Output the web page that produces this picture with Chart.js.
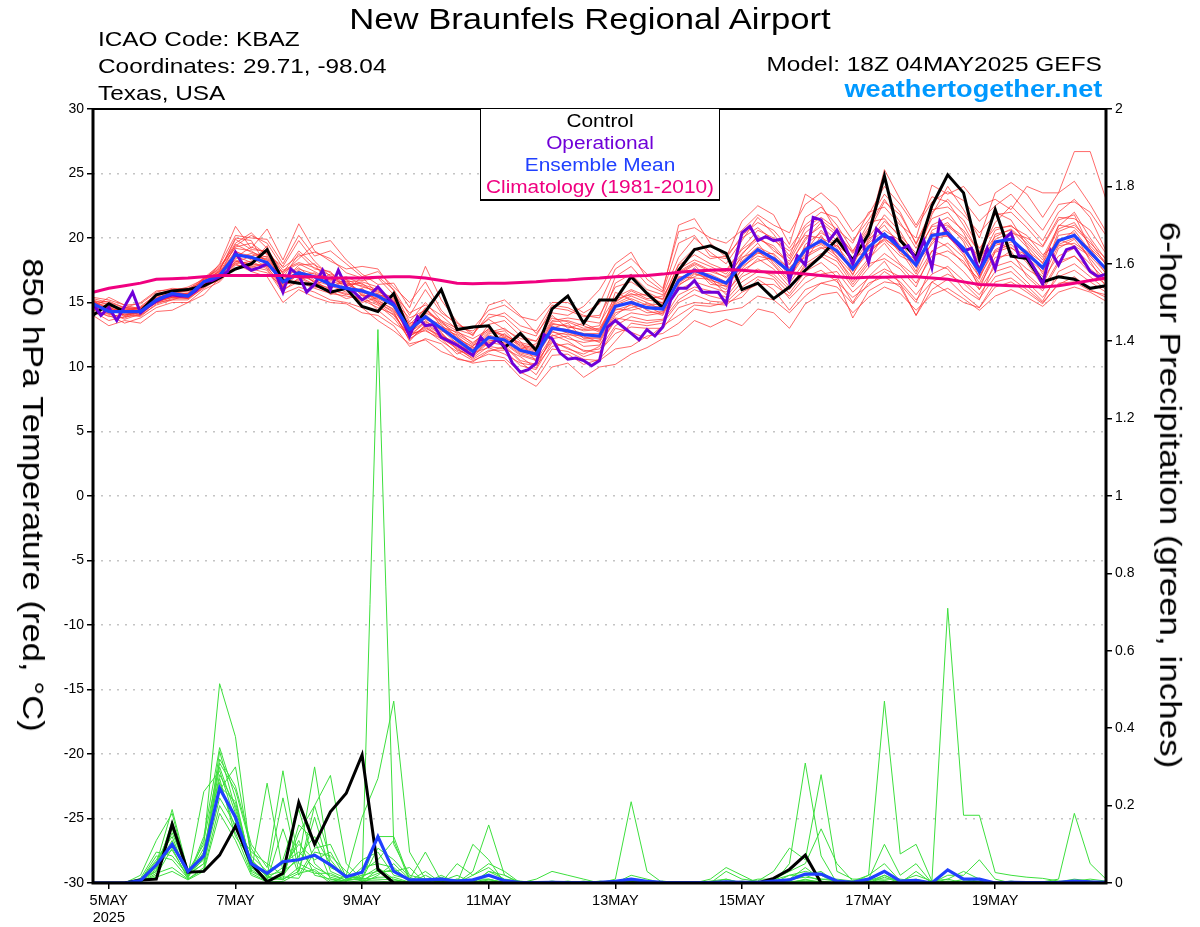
<!DOCTYPE html>
<html>
<head>
<meta charset="utf-8">
<title>New Braunfels Regional Airport</title>
<script src="https://cdn.jsdelivr.net/npm/chart.js@4"></script>
<style>
  html, body { margin: 0; padding: 0; background: #fff; }
  #wrap { position: relative; width: 1200px; height: 927px; overflow: hidden; font-family: "Liberation Sans", Arial, sans-serif; color: #000; }
  canvas { position: absolute; left: 0; top: 0; }
  .txt { position: absolute; white-space: nowrap; line-height: 1; }
  .l { transform: translateY(-50%) scaleX(1.16); transform-origin: left center; font-size: 21px; }
  .r { right: 98px; transform: translateY(-50%) scaleX(1.165); transform-origin: right center; }
  .c { transform: translate(-50%, -50%) scaleX(1.155); }
  .v { transform: translate(-50%, -50%) rotate(90deg) scaleX(1.155); font-size: 30px; }
  #legend { position: absolute; left: 480px; top: 109px; width: 238px; height: 89px; background: #fff; border: 1px solid #000; border-bottom-width: 2px; border-top-width: 0; text-align: center; font-size: 17.5px; line-height: 22px; padding-top: 1px; }
  #legend div { transform: scaleX(1.19); }
</style>
</head>
<body>
<div id="wrap">
  <canvas id="chart" width="1200" height="927"></canvas>
  <div class="txt c" style="left:590px;top:19px;font-size:30px">New Braunfels Regional Airport</div>
  <div class="txt l" style="left:98px;top:38px">ICAO Code: KBAZ</div>
  <div class="txt l" style="left:98px;top:65px">Coordinates: 29.71, -98.04</div>
  <div class="txt l" style="left:98px;top:92px">Texas, USA</div>
  <div class="txt r" style="top:63px;font-size:21px">Model: 18Z 04MAY2025 GEFS</div>
  <div class="txt r" style="top:90px;font-size:23.3px;font-weight:bold;color:#0099ff">weathertogether.net</div>
  <div class="txt v" style="left:33px;top:495px">850 hPa Temperature (red, °C)</div>
  <div class="txt v" style="left:1170px;top:495px;font-size:30.3px">6-hour Precipitation (green, inches)</div>
  <div id="legend">
    <div>Control</div>
    <div style="color:#7000d8">Operational</div>
    <div style="color:#2040ff">Ensemble Mean</div>
    <div style="color:#f00080">Climatology (1981-2010)</div>
  </div>
</div>
<script>
// tick labels, x is hours after 18Z 04MAY
const tickHours = [6, 54, 102, 150, 198, 246, 294, 342];
const tickDays = ['5MAY', '7MAY', '9MAY', '11MAY', '13MAY', '15MAY', '17MAY', '19MAY'];
const tempTicks = [-30, -25, -20, -15, -10, -5, 0, 5, 10, 15, 20, 25, 30];
const precipTicks = [0, 0.2, 0.4, 0.6, 0.8, 1, 1.2, 1.4, 1.6, 1.8, 2];

// --- 850 hPa temperature, every 6 hours ---
const controlTemp = [14.0,14.9,14.3,14.3,15.6,15.9,16.0,16.3,16.9,17.6,18.0,19.1,16.7,16.5,16.4,15.8,16.1,14.7,14.3,15.7,12.7,14.3,16.0,12.9,13.1,13.2,11.5,12.6,11.3,14.5,15.5,13.4,15.2,15.2,17.0,15.7,14.6,17.5,19.1,19.4,18.8,16.0,16.5,15.3,16.2,17.5,18.6,19.9,18.3,20.3,24.8,19.8,18.5,22.5,24.9,23.5,18.4,22.2,18.6,18.4,16.6,17.0,16.8,16.1,16.3];
const meanTemp = [14.9,14.3,14.3,14.3,15.2,15.7,15.5,16.6,17.1,18.7,18.5,18.1,16.6,17.3,17.0,16.4,16.1,15.9,15.5,14.8,12.9,13.9,13.0,12.1,11.2,12.3,12.1,11.3,11.0,13.0,12.8,12.5,12.4,14.7,15.0,14.6,14.5,16.7,17.5,17.0,16.5,18.0,19.1,18.4,17.4,19.1,19.8,19.0,17.6,19.3,20.3,19.2,17.9,20.2,20.4,19.2,17.4,19.7,19.9,18.8,17.7,19.8,20.2,18.9,17.6];
const climoTemp = [15.8,16.1,16.3,16.5,16.8,16.85,16.9,17.0,17.1,17.1,17.1,17.1,17.1,17.0,17.0,16.9,16.9,16.9,16.95,17.0,17.0,16.9,16.7,16.5,16.45,16.5,16.5,16.55,16.6,16.7,16.75,16.85,16.9,17.0,17.05,17.1,17.2,17.35,17.45,17.5,17.55,17.5,17.4,17.35,17.3,17.2,17.1,17.0,16.9,16.95,16.95,17.0,17.0,16.9,16.8,16.6,16.4,16.35,16.3,16.25,16.2,16.3,16.5,16.7,16.9];
// operational run comes every 3 hours
const operTemp = [14.9,14.0,14.6,13.6,14.7,15.8,14.2,14.7,15.1,15.4,15.6,15.5,15.5,15.9,16.6,16.7,17.0,17.4,18.9,17.9,17.5,17.7,18.0,17.4,15.8,17.6,17.1,15.8,16.4,17.5,16.0,17.5,16.2,15.8,15.2,15.6,16.2,15.5,14.9,13.8,12.4,13.9,13.2,13.3,12.3,12.0,11.7,11.3,10.9,12.3,11.6,12.1,11.6,10.3,9.6,9.8,10.3,12.5,12.2,11.1,10.6,10.7,10.5,10.1,10.5,13.1,13.6,13.1,12.6,12.1,12.9,12.4,13.1,15.2,16.1,16.1,16.7,15.8,15.8,15.8,14.9,17.9,20.4,20.9,19.8,20.1,19.8,19.9,16.7,18.6,17.9,21.6,21.4,19.8,20.6,19.4,18.0,20.1,18.1,20.7,20.1,20.0,19.1,19.4,18.3,19.8,17.7,21.3,20.3,19.7,19.0,19.2,17.4,19.2,17.6,19.8,20.4,18.6,18.6,17.6,16.4,19.0,17.9,19.1,19.3,18.4,17.4,17.0,17.2];
const tempMembers = [
  [15.3,15.0,14.6,15.0,15.9,16.0,16.1,16.6,18.0,20.9,19.2,20.7,18.3,21.1,19.0,18.2,17.6,17.8,17.6,15.9,13.5,15.0,13.6,12.2,11.6,13.3,13.6,12.4,12.0,13.8,13.5,13.0,13.2,16.5,17.2,16.0,15.6,18.5,20.0,18.9,18.0,19.8,21.6,20.3,18.6,21.6,22.4,21.0,19.0,20.8,23.0,21.2,19.2,21.5,22.0,20.4,18.2,20.6,21.0,19.8,18.5,20.9,22.0,20.0,18.3],
  [14.6,15.4,14.8,14.5,15.5,15.8,15.7,16.9,17.6,19.6,20.4,19.2,17.2,18.4,19.5,19.8,18.3,17.2,16.4,16.5,14.6,17.8,15.2,13.5,12.4,14.8,15.2,14.0,12.6,14.2,14.0,14.7,16.0,18.0,18.9,16.8,15.9,21.0,21.5,19.6,18.5,21.3,22.5,21.8,19.5,23.4,22.6,20.4,18.8,20.6,25.3,23.0,21.0,23.2,22.8,21.0,18.8,21.2,22.5,21.2,19.8,22.0,23.0,21.6,19.0],
  [15.1,14.5,14.0,14.2,15.0,15.4,15.5,16.3,17.3,19.0,18.3,18.6,17.0,17.0,16.4,16.9,16.3,16.6,16.2,14.9,12.5,13.4,12.6,11.6,10.8,11.9,11.7,10.5,10.2,12.2,12.4,11.6,11.7,13.6,14.2,14.0,14.2,16.0,16.6,16.2,15.8,17.2,18.4,17.6,16.2,17.8,18.6,17.8,16.2,17.7,18.8,17.9,16.5,18.6,19.0,18.2,16.3,18.5,18.7,17.6,16.8,18.6,19.2,18.0,16.7],
  [14.3,13.6,13.9,14.0,14.8,15.2,15.2,16.2,16.8,18.2,18.0,17.8,16.0,16.6,16.1,15.7,15.5,15.3,14.8,13.8,12.2,12.9,12.0,11.2,10.5,11.0,10.7,9.6,9.0,10.9,11.0,10.2,10.6,12.0,13.4,13.2,13.4,15.0,15.6,15.1,15.0,16.2,17.0,16.8,15.3,16.5,17.2,17.4,15.8,16.9,17.6,17.0,15.6,17.2,17.8,16.7,15.6,17.4,17.8,16.6,15.4,17.0,17.5,16.6,15.8],
  [15.0,14.7,14.6,14.4,15.3,15.8,15.9,16.8,17.4,19.3,19.6,18.7,17.8,19.8,18.2,17.0,16.8,16.2,15.9,15.1,13.8,14.4,13.4,12.6,11.9,12.8,12.5,11.8,11.4,13.4,13.1,12.9,13.0,15.1,15.7,15.2,15.0,17.6,18.3,17.8,17.2,18.8,19.9,19.4,18.0,19.8,21.2,20.2,18.3,20.0,21.8,20.5,18.4,21.8,24.0,22.2,20.0,23.5,24.3,23.4,21.6,23.5,24.4,22.6,20.5],
  [14.2,14.0,13.4,13.8,14.6,15.0,15.0,16.0,16.6,17.9,17.8,17.5,15.7,16.2,15.8,15.2,15.0,14.6,13.6,12.8,11.8,12.1,11.2,10.7,10.3,10.5,10.5,9.2,8.5,10.0,10.3,9.2,10.0,10.2,11.0,11.5,12.2,12.5,13.6,13.1,13.7,13.2,14.5,14.2,13.0,14.9,15.6,15.8,14.2,15.4,16.2,15.7,14.4,15.6,16.1,15.3,14.4,15.5,16.0,15.4,14.7,15.8,16.2,15.8,15.1],
  [14.8,14.2,13.7,14.1,15.1,15.5,15.4,16.4,17.0,18.4,18.8,18.3,16.4,17.6,17.2,16.6,16.4,15.9,15.2,14.4,12.7,13.5,12.9,11.8,11.0,12.1,11.9,11.0,10.6,13.2,12.6,12.1,12.0,14.2,14.6,14.9,14.8,17.2,17.9,16.6,16.0,18.4,19.6,18.0,16.7,19.5,20.4,19.6,17.1,19.9,21.0,19.4,17.4,20.6,21.2,19.7,16.9,20.3,20.6,19.3,17.2,20.5,21.0,19.8,17.9],
  [15.2,14.8,14.3,14.6,15.4,15.6,15.7,16.6,17.2,18.9,18.6,18.0,16.9,18.8,17.6,17.4,15.9,17.0,15.6,15.3,13.0,14.6,13.2,12.4,11.3,12.6,12.8,11.6,11.2,13.0,13.4,12.2,12.2,15.8,15.2,14.4,14.0,16.4,17.0,17.6,16.9,18.1,18.8,18.8,17.6,18.5,19.2,19.4,18.5,19.0,19.8,18.6,18.0,19.5,20.9,19.9,18.1,19.9,20.4,20.0,19.3,21.4,21.8,19.2,17.5],
  [14.5,13.9,14.1,13.9,14.9,15.3,15.3,16.1,16.9,18.6,18.1,19.4,16.2,17.2,16.6,16.0,15.6,16.0,15.0,14.2,12.1,13.2,12.3,11.4,10.7,11.6,11.4,10.8,9.9,12.5,12.0,11.2,11.4,13.2,13.9,13.6,13.7,15.6,16.2,15.9,15.4,17.0,17.6,17.0,15.7,17.4,18.1,17.0,15.0,17.0,18.2,16.4,15.0,18.0,17.6,16.0,15.2,18.2,19.0,17.0,15.9,18.0,18.6,17.3,16.4],
  [14.9,14.4,14.5,14.3,15.2,15.9,15.6,16.7,17.7,19.2,19.0,18.2,16.6,17.9,18.0,16.2,16.8,15.5,15.7,15.0,13.2,14.2,13.6,13.0,12.8,13.7,12.9,12.2,12.0,14.0,13.0,13.4,12.8,14.8,15.3,14.8,14.6,16.9,17.4,17.2,16.6,18.7,20.2,19.0,18.2,20.4,21.4,20.4,18.9,21.2,21.5,20.0,18.6,21.0,21.6,20.6,18.9,22.0,21.4,19.4,18.0,21.0,20.8,19.6,18.4],
  [14.7,14.6,14.2,14.7,15.6,16.0,15.8,16.5,17.5,20.0,19.8,17.8,17.4,18.0,17.4,16.7,17.0,16.4,16.0,14.6,13.4,13.7,13.1,12.7,12.2,12.9,12.3,11.4,11.8,13.6,13.8,13.6,13.4,15.4,16.0,15.5,15.3,17.9,18.7,18.0,17.5,19.2,20.6,20.0,18.4,20.8,21.6,20.7,19.6,22.0,22.4,21.0,20.0,24.1,23.4,24.0,22.5,23.0,22.2,24.0,23.5,23.5,26.7,26.7,23.0],
  [15.0,14.1,14.4,14.2,15.0,15.5,15.3,16.3,16.7,18.0,18.2,17.6,15.9,16.9,16.3,15.9,15.3,15.6,14.9,14.0,12.4,13.0,12.4,11.9,11.1,11.5,11.0,10.3,10.1,11.6,11.8,11.3,11.1,13.0,12.7,12.2,13.2,14.0,14.8,14.7,15.0,15.4,16.8,16.0,14.4,16.0,16.5,16.2,14.9,16.5,17.0,16.2,14.0,16.0,16.8,15.6,14.6,16.6,16.9,16.0,15.0,16.4,17.0,16.0,15.4],
  [14.4,14.7,14.0,14.4,15.4,15.7,15.6,16.8,17.2,18.5,19.3,18.8,17.3,19.0,17.9,17.3,16.6,16.7,16.9,15.6,14.2,14.8,14.0,12.9,12.5,14.1,13.9,12.8,12.4,14.6,14.4,13.9,14.0,16.2,16.6,15.8,15.2,18.0,19.2,18.4,18.6,20.0,20.8,19.8,19.0,20.2,20.0,19.4,17.8,20.5,22.8,21.8,19.6,22.2,22.4,21.4,19.2,20.8,20.9,20.2,18.7,19.6,20.6,19.0,17.2],
  [15.1,14.9,14.3,14.0,15.1,15.4,15.4,16.5,17.0,18.8,18.4,18.4,16.7,17.4,16.9,15.6,16.2,15.8,15.3,14.7,12.3,13.6,12.7,11.3,10.9,12.0,12.2,11.2,10.9,12.8,12.2,11.9,12.1,14.4,14.8,14.2,14.3,16.3,17.2,16.9,15.6,17.6,18.9,18.2,16.9,18.7,19.3,18.4,16.9,18.4,19.6,18.0,17.0,19.0,19.6,18.5,16.5,18.9,19.3,18.1,16.3,19.2,19.9,18.4,16.9],
  [14.6,14.3,14.6,14.5,15.3,15.6,15.5,16.7,17.3,18.3,17.9,17.9,16.5,17.1,17.3,16.5,16.0,15.0,15.4,15.2,12.9,14.0,12.8,12.3,11.5,11.8,12.6,11.5,11.1,13.1,12.9,12.6,12.6,14.9,15.5,15.0,14.4,16.6,17.7,16.4,16.3,18.2,19.3,18.7,17.0,18.9,20.6,19.2,17.4,19.6,20.6,19.8,17.7,20.4,20.1,19.0,17.8,19.4,20.0,18.5,17.4,20.2,20.4,18.2,16.2],
  [14.8,14.5,14.1,14.3,15.2,15.7,15.7,16.4,17.1,19.5,18.9,18.5,16.8,17.7,16.7,16.3,15.8,16.1,15.1,14.5,12.6,13.8,13.3,12.0,11.4,12.4,11.8,10.9,10.5,12.4,12.7,12.3,12.3,14.5,14.4,14.7,14.1,17.0,16.9,16.8,16.2,17.8,18.6,18.3,17.3,19.3,19.6,18.8,17.5,18.8,20.0,19.0,17.2,19.7,20.7,18.9,16.0,19.0,19.5,18.3,17.0,19.4,19.6,18.7,17.7],
  [15.2,14.2,14.4,14.6,15.3,15.8,15.5,16.6,17.4,18.7,18.5,17.7,16.3,16.8,17.0,16.8,16.5,16.3,15.8,15.4,13.1,14.1,12.9,12.5,11.7,12.2,12.3,11.7,11.3,13.3,13.2,12.8,12.9,15.0,15.9,15.3,15.5,17.3,18.0,17.4,17.0,18.5,19.0,17.9,16.5,18.2,20.2,18.5,16.6,18.2,20.4,18.8,18.2,19.9,20.2,18.7,17.0,19.1,19.7,19.0,18.1,19.9,19.4,18.6,17.3],
  [14.7,14.4,14.2,14.1,15.0,15.6,15.3,16.5,16.9,18.1,18.6,18.9,16.1,17.5,16.5,16.1,16.7,15.7,15.0,14.3,12.0,13.3,12.5,11.7,11.2,12.5,12.0,11.1,10.8,12.7,12.5,12.4,11.9,14.0,14.9,14.5,14.7,16.5,17.3,16.7,16.4,17.5,18.2,18.5,17.7,19.0,19.5,18.6,17.2,19.1,19.9,19.1,18.3,20.0,19.3,18.0,16.8,19.6,19.2,18.7,17.6,19.5,20.0,19.2,18.0],
  [15.0,14.6,14.5,14.5,15.3,15.5,15.6,16.9,17.5,19.9,19.1,19.0,17.5,18.1,17.7,17.1,16.4,16.5,15.5,15.5,13.3,14.5,13.5,12.8,11.8,13.0,12.4,11.9,11.6,13.5,13.6,13.2,12.7,15.3,15.6,15.6,14.9,17.4,18.1,17.5,17.4,19.1,20.0,19.2,17.9,20.0,20.9,19.8,18.1,19.7,21.3,20.2,18.8,20.9,21.0,20.1,18.5,20.1,20.7,19.6,18.3,20.7,21.2,19.4,18.1],
  [14.4,14.1,13.8,14.3,15.1,15.4,15.4,16.2,17.0,18.2,17.7,18.1,16.4,16.7,16.2,16.0,15.7,15.2,14.6,14.1,12.4,13.1,12.2,11.5,10.6,11.3,11.3,10.1,9.8,11.9,11.5,10.8,11.2,12.6,13.1,13.0,13.0,14.6,15.0,14.9,14.8,15.8,16.4,16.4,15.5,17.0,17.5,16.6,15.4,16.3,17.4,16.6,15.2,16.6,17.2,16.5,15.3,17.0,17.4,16.3,15.1,17.4,18.0,17.0,16.0],
  [15.4,15.2,14.8,14.9,15.8,16.1,16.0,16.9,17.9,20.2,20.0,19.9,18.0,20.2,18.6,19.0,18.0,17.0,17.4,16.2,15.0,16.6,14.4,13.2,13.0,14.4,14.8,13.9,13.6,15.0,15.0,14.2,14.9,17.6,18.4,17.2,16.1,20.5,20.8,20.0,19.6,20.6,21.8,21.0,20.4,22.6,23.5,22.4,20.5,21.8,24.0,22.6,20.8,22.8,23.6,22.9,21.3,22.5,23.4,22.0,20.6,22.6,22.8,22.0,20.2],
  [14.0,13.2,13.6,13.4,14.3,14.4,15.0,15.6,16.9,18.0,17.4,17.0,15.0,16.0,15.4,15.0,14.9,14.2,14.0,13.2,11.6,12.2,11.8,10.6,10.4,11.2,11.6,10.4,9.4,11.4,11.2,10.6,10.5,11.4,11.6,12.4,12.6,13.4,14.5,14.2,14.4,14.6,15.5,15.2,14.2,15.5,16.5,16.8,13.8,15.9,16.6,16.4,14.0,16.6,15.8,15.0,14.6,16.2,16.6,15.8,14.9,16.5,16.6,15.9,15.6],
  [15.0,15.1,14.6,14.6,15.7,15.9,16.2,16.8,17.8,19.4,20.2,19.6,17.7,18.6,18.9,18.4,17.3,16.9,17.0,16.0,14.0,16.0,14.2,13.4,12.6,13.8,14.2,13.2,12.8,14.8,14.6,14.0,13.8,17.0,17.8,16.4,15.8,19.6,20.2,18.6,18.4,20.2,21.2,20.6,19.2,21.0,22.0,21.6,19.8,21.4,23.4,22.0,19.5,22.0,23.0,21.8,20.4,21.8,22.0,20.8,19.4,21.6,21.5,20.6,18.8],
  [14.5,14.6,13.9,14.4,15.0,15.2,15.6,16.4,17.1,18.6,17.6,17.3,16.2,17.4,16.6,17.2,16.6,15.6,14.4,13.4,12.6,12.8,12.2,11.0,11.6,12.7,13.0,12.0,10.4,12.0,11.4,11.0,11.6,13.8,13.6,13.4,13.6,15.2,16.0,15.5,15.2,16.6,17.4,17.2,16.0,18.0,18.8,18.2,16.4,18.0,18.4,17.6,16.2,19.0,18.5,17.4,16.0,17.8,18.2,17.2,16.1,18.2,18.6,17.6,16.6]
];

// --- 6-hour precipitation, every 6 hours ---
const controlPrecip = [0,0,0,.008,.01,.152,.028,.03,.072,.147,.05,.003,.025,.208,.1,.184,.232,.331,.035,0,0,0,0,0,0,0,0,0,0,0,0,0,0,0,0,0,0,0,0,0,0,0,0,.012,.035,.072,0,0,0,0,0,0,0,0,0,0,0,0,0,0,0,0,0,0,0];
const meanPrecip = [0,0,0,.006,.047,.1,.03,.07,.245,.17,.05,.025,.055,.06,.072,.047,.016,.028,.12,.03,.008,.008,.01,.005,.008,.02,.006,.001,.001,.002,.001,.001,.002,.004,.01,.004,.002,.001,.001,.001,.003,.002,.002,.005,.008,.023,.023,.005,.002,.01,.03,.005,.007,0,.034,.01,.01,0,.002,.001,.001,.002,.005,.003,.002];
const precipMembers = [
  [0,0,0,.01,.05,.19,.03,.1,.515,.378,.06,.02,.03,.11,.02,.01,0,0,.02,.05,.01,0,.02,0,.03,.15,.02,0,0,0,0,0,0,.01,.21,.03,0,0,0,.01,.04,.02,0,0,.05,.31,.07,0,0,.02,.47,.075,.1,.005,.71,.175,.175,.027,.02,.015,.012,.005,0,0,0],
  [0,0,0,.02,.11,.18,.02,.05,.32,.25,.1,.04,.29,.05,.03,0,.02,.01,1.43,.1,.02,.01,0,.05,.02,.05,.03,0,.01,.03,.02,.01,0,0,.01,0,.005,0,0,0,.03,.01,.005,.03,.09,.06,.28,.03,.01,.01,.1,.02,.05,0,.02,.02,.06,.01,0,0,.003,.01,.18,.05,.01],
  [0,0,0,.01,.03,.1,.02,.236,.29,.16,.03,.258,.03,.06,.3,.04,.02,.17,.27,.47,.08,.01,.01,0,.1,.06,0,0,0,0,0,0,.005,0,.02,.01,0,0,0,.005,.01,0,.01,.01,.03,.05,.14,.05,.005,.02,.05,.005,.02,.005,.01,.03,.01,0,0,.002,0,0,.005,.01,.005],
  [0,0,0,.005,.04,.15,.02,.08,.28,.2,.05,.02,.22,.03,.2,.278,.05,.01,.12,.12,.01,.08,.005,.02,0,.03,.01,.005,0,0,.005,0,0,.005,.005,0,0,0,.002,0,0,.005,0,.005,.01,.04,.01,.01,.005,0,.02,0,.03,0,.005,0,.01,0,.005,0,0,0,.002,.003,0],
  [0,0,0,.008,.06,.12,.015,.12,.35,.22,.04,.01,.01,.15,.11,.01,.005,.03,.06,.11,.005,.03,0,.01,.005,.02,.005,0,0,0,0,.005,0,0,0,.005,0,0,0,0,.005,0,.003,0,.02,.02,.03,0,0,.01,.01,.01,.005,0,0,.01,0,0,0,0,.001,.003,.01,.005,0],
  [0,0,0,.003,.02,.09,.01,.04,.26,.14,.08,.05,.02,.13,.2,.06,.01,.02,.03,.03,.04,0,.015,0,.01,.01,0,.003,0,.005,0,0,0,0,.005,0,0,.002,0,0,.002,0,0,0,0,.01,0,.002,.002,.005,.005,0,.005,0,.01,0,.005,0,0,0,0,.002,0,.005,.002],
  [0,0,0,.012,.08,.07,.02,.07,.3,.18,.03,.008,.14,.02,.09,.1,.015,.06,.08,.02,.01,.01,.003,.01,0,.03,.02,0,0,.002,.003,0,0,.002,0,.003,0,0,.001,.003,0,.002,0,.008,.02,.03,.02,0,0,.005,.02,.003,.01,0,.004,.005,0,0,.002,0,0,0,.003,0,0],
  [0,0,0,.006,.05,.14,.025,.06,.24,.3,.07,.03,.05,.08,.04,.02,.008,.01,.09,.06,.015,0,0,0,.02,.04,.008,0,.002,0,0,.002,.001,0,.003,0,0,0,0,0,.01,0,.002,.005,.01,.015,.01,.005,0,0,.015,0,.002,0,.002,0,.003,0,0,.001,0,0,0,.002,.002],
  [0,0,0,.004,.03,.16,.018,.09,.27,.12,.06,.015,.01,.03,.17,.03,.012,.015,.04,.01,0,.02,0,.005,.003,.01,0,0,0,0,.002,0,0,.001,0,0,.002,0,0,0,.002,.001,0,0,.006,.02,.005,0,.003,.003,.004,.002,0,0,0,.003,0,.001,0,0,0,.001,.002,0,0],
  [0,0,0,.007,.07,.06,.012,.11,.31,.24,.09,.02,.06,.19,.05,.015,.004,.04,.05,.04,.005,.005,.008,0,0,.008,.003,0,0,.001,0,0,0,0,.002,.001,0,0,0,.001,0,0,.001,.002,.004,.005,.002,.001,0,.002,.006,0,.003,0,0,.002,0,0,.001,0,0,0,0,.001,.001],
  [0,0,0,.009,.04,.11,.022,.05,.22,.15,.035,.006,.02,.07,.12,.05,.02,.005,.015,.015,.002,.003,0,.003,.002,.005,.002,0,0,0,0,0,.001,0,0,0,0,.001,0,0,.001,0,0,.001,.002,.008,.003,0,.001,.001,.002,.001,.001,0,.001,0,.002,0,0,0,.001,0,.001,0,0],
  [0,0,0,.005,.035,.13,.028,.075,.25,.21,.045,.012,.04,.1,.06,.08,.01,.008,.025,.035,.003,.002,.002,.002,.001,.002,0,.002,0,0,0,.001,0,0,.001,0,.001,0,0,0,0,.001,0,.003,.003,.004,.004,0,0,.001,.003,.002,0,0,.002,.001,0,0,0,.001,0,0,.002,.001,.001],
  [0,0,0,.01,.055,.085,.016,.065,.34,.19,.055,.018,.008,.04,.025,.025,.006,.012,.01,.008,.002,.001,.001,0,.001,.003,.001,0,.001,0,0,0,0,.001,0,0,0,0,0,.001,0,0,0,0,.002,.002,0,.001,0,0,.001,0,.002,0,0,0,.001,0,.001,0,0,.001,0,0,0],
  [0,0,0,.002,.025,.04,.01,.035,.2,.13,.025,.004,.016,.012,.08,.07,.03,.003,.035,.005,.001,.001,0,.001,0,.001,0,0,0,0,.001,0,0,0,0,.001,0,0,.001,0,.001,0,.001,0,.001,.001,.001,0,.001,0,0,.001,0,0,0,.001,0,0,0,0,.001,0,0,0,0],
  [0,0,0,.006,.015,.03,.008,.03,.18,.11,.02,.003,.004,.025,.035,.005,.002,.006,.005,.002,.001,0,.001,0,0,0,.001,0,0,.001,0,0,0,0,0,0,.001,0,0,0,0,0,0,.001,0,.001,0,.001,0,.001,0,0,.001,0,.001,0,0,.001,0,0,0,0,.001,0,0]
];

const hours6 = controlTemp.map((_, i) => i * 6);
const hours3 = operTemp.map((_, i) => i * 3);

function points(hours, values) {
  return values.map((v, i) => ({ x: hours[i], y: v }));
}

function line(hours, values, color, width, axis) {
  return {
    data: points(hours, values),
    borderColor: color,
    borderWidth: width,
    yAxisID: axis,
    pointRadius: 0,
    tension: 0,
    borderJoinStyle: 'miter'
  };
}

const RED = 'rgba(255,50,50,0.72)';
const GREEN = '#3ddf3d';
const datasets = [];
tempMembers.forEach(m => datasets.push(line(hours6, m, RED, 1, 'y')));
precipMembers.forEach(m => datasets.push(line(hours6, m, GREEN, 1, 'y2')));
datasets.push(line(hours6, controlTemp, '#000', 3, 'y'));
datasets.push(line(hours6, controlPrecip, '#000', 3, 'y2'));
datasets.push(line(hours3, operTemp, '#7000d8', 3, 'y'));
datasets.push(line(hours6, meanTemp, '#2040ff', 3.2, 'y'));
datasets.push(line(hours6, meanPrecip, '#2040ff', 3.2, 'y2'));
datasets.push(line(hours6, climoTemp, '#f00080', 3, 'y'));
// chart.js paints the first dataset last, members have to stay underneath
datasets.reverse();

// black box around the plot
const plotFrame = {
  id: 'plotFrame',
  afterDatasetsDraw(chart) {
    const a = chart.chartArea, c = chart.ctx;
    c.save();
    c.strokeStyle = '#000';
    c.lineWidth = 2;
    c.beginPath();
    c.moveTo(a.left, a.top);
    c.lineTo(a.right, a.top);
    c.stroke();
    c.lineWidth = 3;
    c.beginPath();
    c.moveTo(a.left, a.top);
    c.lineTo(a.left, a.bottom);
    c.lineTo(a.right, a.bottom);
    c.lineTo(a.right, a.top);
    c.stroke();
    c.restore();
  }
};

const tickFont = { family: '"Liberation Sans", Arial, sans-serif', size: 14 };

new Chart(document.getElementById('chart'), {
  type: 'line',
  data: { datasets: datasets },
  plugins: [plotFrame],
  options: {
    responsive: false,
    animation: false,
    devicePixelRatio: 1,
    layout: { padding: { top: 109 } },
    plugins: { legend: { display: false }, title: { display: false }, tooltip: { enabled: false } },
    scales: {
      x: {
        type: 'linear',
        min: 0,
        max: 384,
        afterBuildTicks: axis => { axis.ticks = tickHours.map(v => ({ value: v })); },
        afterFit: axis => { axis.height = 44; },
        grid: { drawOnChartArea: false, tickLength: 6, tickColor: '#000', lineWidth: 1.5 },
        border: { display: false },
        ticks: {
          autoSkip: false,
          maxRotation: 0,
          color: '#000',
          font: { family: tickFont.family, size: 14.5 },
          padding: 3,
          callback: (v, i) => i === 0 ? [tickDays[i], '2025'] : tickDays[i]
        }
      },
      y: {
        position: 'left',
        min: -30,
        max: 30,
        afterBuildTicks: axis => { axis.ticks = tempTicks.map(v => ({ value: v })); },
        afterFit: axis => { axis.width = 93; },
        grid: { color: '#c4c4c4', lineWidth: 1.5, tickLength: 6, tickColor: '#000', tickBorderDash: [] },
        border: { display: false, dash: [2, 6] },
        ticks: { color: '#000', font: tickFont, padding: 3 }
      },
      y2: {
        position: 'right',
        min: 0,
        max: 2,
        afterBuildTicks: axis => { axis.ticks = precipTicks.map(v => ({ value: v })); },
        afterFit: axis => { axis.width = 94; },
        grid: { drawOnChartArea: false, tickLength: 6, tickColor: '#000', lineWidth: 1.5 },
        border: { display: false },
        ticks: { color: '#000', font: tickFont, padding: 3, callback: v => String(+v.toFixed(1)) }
      }
    }
  }
});
</script>
</body>
</html>
